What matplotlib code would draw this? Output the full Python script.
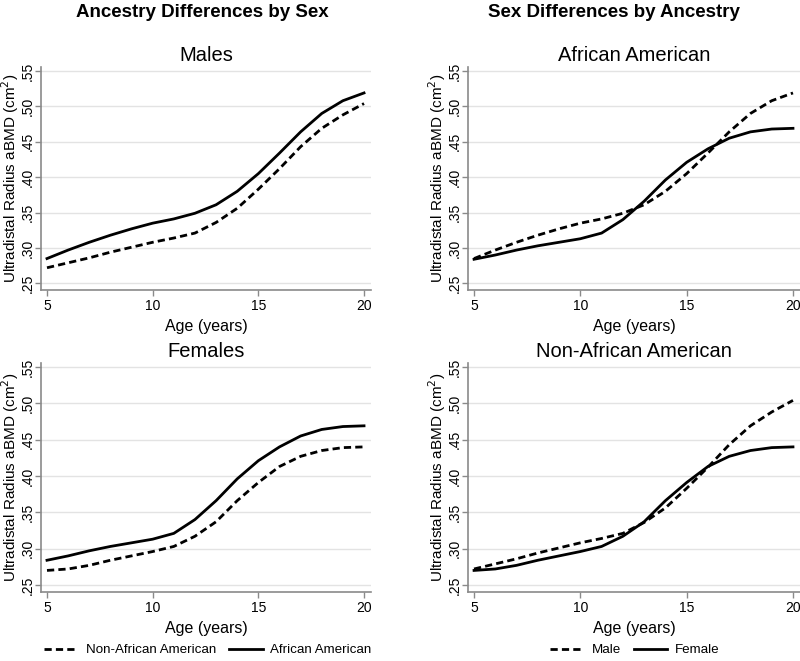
import matplotlib.pyplot as plt
import numpy as np

plt.rcParams['font.family'] = ['Liberation Sans', 'DejaVu Sans']

ages = [5, 6, 7, 8, 9, 10, 11, 12, 13, 14, 15, 16, 17, 18, 19, 20]
male_aa = [.285, .297, .308, .318, .327, .335, .341, .349, .361, .380, .405, .434, .464, .490, .508, .519]
male_naa = [.272, .279, .286, .294, .301, .308, .314, .321, .336, .356, .383, .412, .443, .469, .488, .504]
female_aa = [.284, .290, .297, .303, .308, .313, .321, .340, .366, .396, .421, .440, .455, .464, .468, .469]
female_naa = [.270, .272, .277, .284, .290, .296, .303, .317, .337, .366, .391, .413, .427, .435, .439, .440]

yticks = [.25, .30, .35, .40, .45, .50, .55]
xticks = [5, 10, 15, 20]
ylab = 'Ultradistal Radius aBMD (cm$^2$)'

fig = plt.figure(figsize=(8, 6.61), dpi=100)
fig.patch.set_facecolor('white')

W, H = 800, 661
def box(l, r, t, b):
    return [l / W, 1 - b / H, (r - l) / W, (b - t) / H]

panels = [
    (box(41, 371, 66.75, 289.7), 'Males', male_naa, male_aa),
    (box(468, 800, 66.75, 289.7), 'African American', male_aa, female_aa),
    (box(41, 371, 362.6, 591.5), 'Females', female_naa, female_aa),
    (box(468, 800, 362.6, 591.5), 'Non-African American', male_naa, female_naa),
]

axes = []
for pos, title, dashed, solid in panels:
    ax = fig.add_axes(pos)
    ax.plot(ages, dashed, color='black', lw=2.0, ls=(0, (2.6, 1.5)))
    ax.plot(ages, solid, color='black', lw=2.0)
    ax.set_xlim(4.716, 20.33)
    ax.set_ylim(0.241, 0.556)
    ax.set_yticks(yticks)
    ax.set_yticklabels(['.%02d' % round(v * 100) for v in yticks], rotation=90, va='center')
    ax.set_xticks(xticks)
    ax.grid(axis='y', color='#e3e3e3', lw=1.0)
    ax.set_axisbelow(True)
    for s in ['top', 'right']:
        ax.spines[s].set_visible(False)
    for s in ['left', 'bottom']:
        ax.spines[s].set_color('#8a8a8a')
        ax.spines[s].set_linewidth(1.2)
    ax.tick_params(colors='#8a8a8a', labelcolor='black', labelsize=10, length=4, width=1, pad=3)
    ax.tick_params(axis='y', pad=0.5)
    ax.set_title(title, fontsize=14.5, pad=4)
    ax.set_ylabel(ylab, fontsize=11)
    ax.yaxis.set_label_coords(-0.060, 0.5)
    ax.set_xlabel('Age (years)', fontsize=11.5, labelpad=4)
    axes.append(ax)

fig.text(202 / W, 1 - 17.3 / H, 'Ancestry Differences by Sex', fontsize=13.5,
         fontweight='bold', ha='center', va='baseline')
fig.text(614 / W, 1 - 17.3 / H, 'Sex Differences by Ancestry', fontsize=13.5,
         fontweight='bold', ha='center', va='baseline')

l1 = axes[2].get_lines()
fig.legend(l1, ['Non-African American', 'African American'], loc='center',
           bbox_to_anchor=(208 / W, 1 - 650 / H), ncol=2, frameon=False,
           fontsize=9.6, handlelength=2.5, columnspacing=1.0, handletextpad=0.6)
l2 = axes[3].get_lines()
fig.legend(l2, ['Male', 'Female'], loc='center',
           bbox_to_anchor=(635 / W, 1 - 650 / H), ncol=2, frameon=False,
           fontsize=9.6, handlelength=2.5, columnspacing=1.0, handletextpad=0.6)

fig.savefig('out.png', dpi=100, facecolor='white')
